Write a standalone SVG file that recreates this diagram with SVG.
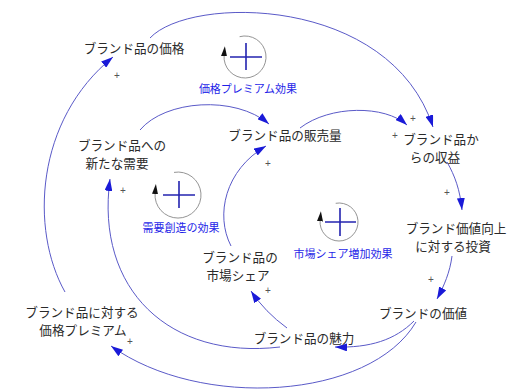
<svg xmlns="http://www.w3.org/2000/svg" width="513" height="390" viewBox="0 0 513 390">
<defs>
<style>
.n{font-family:"Noto Sans CJK JP","Noto Sans",sans-serif;font-size:12.6px;fill:#2a2a2a;text-anchor:middle;dominant-baseline:central}
.lp{font-family:"Noto Sans CJK JP","Noto Sans",sans-serif;font-size:11px;fill:#1f1fe8;text-anchor:middle;dominant-baseline:central}
.s{font-family:"Liberation Sans",sans-serif;font-size:10px;fill:#555;text-anchor:middle;dominant-baseline:central}
.c{fill:none;stroke:#5a5ac8;stroke-width:1;marker-end:url(#ah)}
.ring{fill:none;stroke:#888;stroke-width:0.9;marker-end:url(#lh)}
.plus{stroke:#2424b0;stroke-width:1.6;fill:none}
</style>
<marker id="ah" viewBox="0 0 12 8" refX="12" refY="4" markerWidth="12" markerHeight="8" markerUnits="userSpaceOnUse" orient="auto">
<path d="M0,0 L12,4 L0,8 z" fill="#1a1ad8"/>
</marker>
<marker id="lh" viewBox="0 0 10 6" refX="1" refY="3" markerWidth="10" markerHeight="6" markerUnits="userSpaceOnUse" orient="auto">
<path d="M0,0 L10,3 L0,6 z" fill="#111"/>
</marker>
</defs>
<rect width="513" height="390" fill="#fff"/>

<g id="connectors">
<path class="c" d="M65,292 C30,230 35,120 113,57"/>
<path class="c" d="M150,38 C190,-5 390,-5 433,127"/>
<path class="c" d="M300,128 C330,105 385,105 407,125"/>
<path class="c" d="M140,130 C165,100 235,95 269,124"/>
<path class="c" d="M231,246 C215,215 225,170 266,146"/>
<path class="c" d="M287,328 Q265,312 251,291"/>
<path class="c" d="M414,321 C395,340 370,348 335,347"/>
<path class="c" d="M416,322 C370,400 200,410 111,346"/>
<path class="c" d="M280,347 C170,360 95,290 110,179"/>
<path class="c" d="M447,162 C455,176 460,190 462,210"/>
<path class="c" d="M452,256 C450,272 444,286 437,299"/>
<text class="s" x="117" y="75">+</text>
<text class="s" x="413" y="118">+</text>
<text class="s" x="395" y="135">+</text>
<text class="s" x="123" y="190">+</text>
<text class="s" x="268" y="163">+</text>
<text class="s" x="447" y="192">+</text>
<text class="s" x="431" y="279">+</text>
<text class="s" x="268" y="290">+</text>
<text class="s" x="130" y="341">+</text>
</g>

<g id="loop-price-premium">
<path class="ring" d="M239.6,36.7 A21,21 0 1 1 224.1,55.2"/>
<path class="plus" d="M230,57 H262 M246,43 V70"/>
<text class="lp" x="248" y="88">価格プレミアム効果</text>
</g>
<g id="loop-demand">
<path class="ring" d="M174,172.4 A23,23 0 1 1 155.1,193"/>
<path class="plus" d="M163,195 H195 M179,181 V208"/>
<text class="lp" x="181" y="227">需要創造の効果</text>
</g>
<g id="loop-share">
<path class="ring" d="M335.7,203.3 A19,19 0 1 1 320.1,220.3"/>
<path class="plus" d="M325,222 H356 M340,208 V236"/>
<text class="lp" x="343" y="253">市場シェア増加効果</text>
</g>

<g id="price"><text class="n" x="134" y="47">ブランド品の価格</text></g>
<g id="sales"><text class="n" x="285" y="134">ブランド品の販売量</text></g>
<g id="revenue"><text class="n" x="441" y="138">ブランド品か</text><text class="n" x="435" y="156">らの収益</text></g>
<g id="investment"><text class="n" x="456" y="227">ブランド価値向上</text><text class="n" x="453" y="245">に対する投資</text></g>
<g id="value"><text class="n" x="423" y="312">ブランドの価値</text></g>
<g id="attractiveness"><text class="n" x="304" y="337">ブランド品の魅力</text></g>
<g id="share"><text class="n" x="240" y="256">ブランド品の</text><text class="n" x="238" y="274">市場シェア</text></g>
<g id="premium"><text class="n" x="82" y="311">ブランド品に対する</text><text class="n" x="83" y="329">価格プレミアム</text></g>
<g id="demand"><text class="n" x="122" y="144">ブランド品への</text><text class="n" x="117" y="162">新たな需要</text></g>
</svg>
